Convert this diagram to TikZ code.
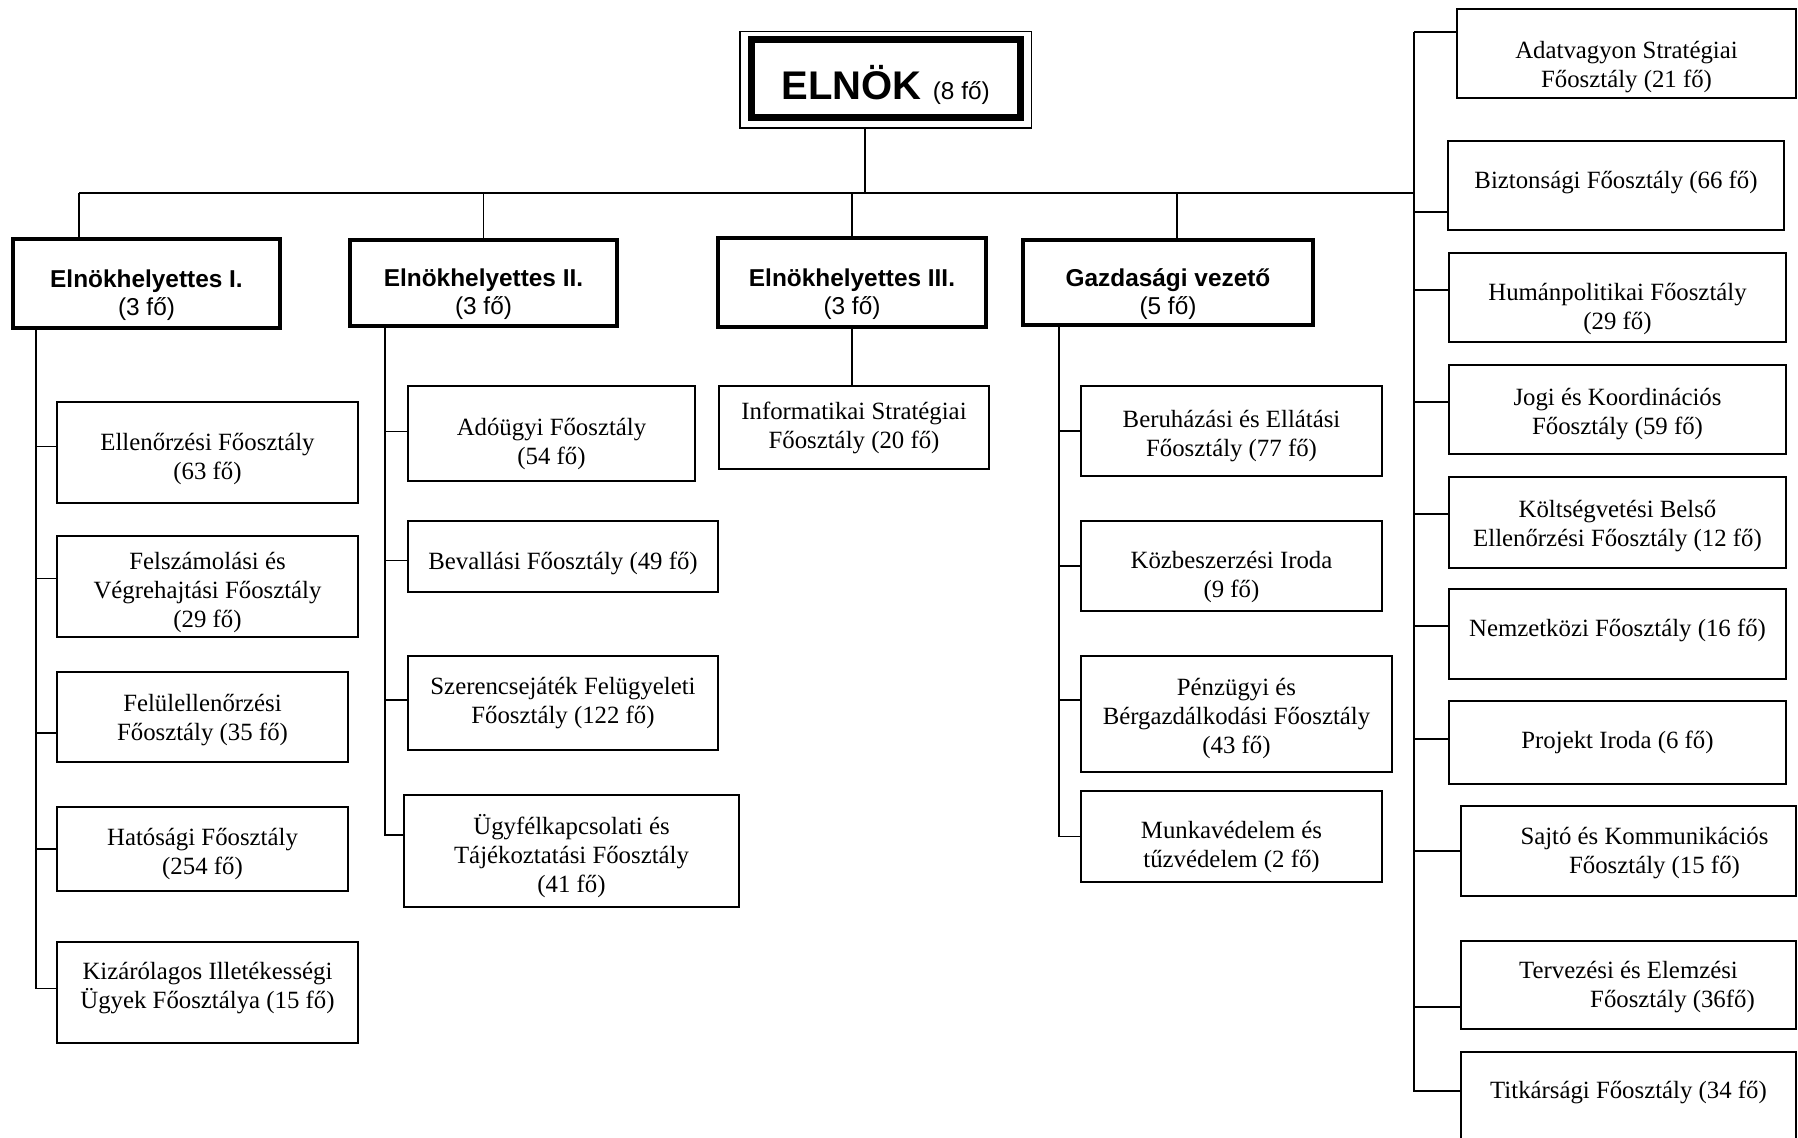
\documentclass[tikz,border=0pt]{standalone}
\usepackage{fontspec}
\setmainfont{Liberation Serif}
\setsansfont{Liberation Sans}
% strut on the first line: pushes the text down inside its box
\newcommand{\tp}[1]{\rule{0pt}{#1}}

\begin{document}
\begin{tikzpicture}[x=0.5pt, y=-0.5pt,
    dbox/.style 2 args={draw, line width=1pt, outer sep=0pt, inner sep=2pt, align=center,
        minimum width=#1*0.5pt, minimum height=#2*0.5pt, font=\fontsize{12.4}{14.5}\selectfont},
    vbox/.style 2 args={draw, line width=1.75pt, outer sep=0pt, inner sep=2pt, align=center,
        minimum width=#1*0.5pt, minimum height=#2*0.5pt, font=\sffamily\fontsize{12.2}{14}\selectfont},
    up/.style={execute at end node={\rule[-#1]{0pt}{0pt}}},
    conn/.style={line width=0.8pt}]
    \useasboundingbox (0,0) rectangle (1798,1138);

    % === TOP: ELNOK ===
    \node[draw, line width=0.75pt, outer sep=0pt, minimum width=145.75pt, minimum height=48.25pt] (elnok) at (885.75,79.75)
        {\tp{22pt}\sffamily{\bfseries\fontsize{20}{24}\selectfont ELNÖK\ }\fontsize{12.2}{14}\selectfont(8 fő)};
    \draw[line width=3.5pt] ([shift={(5.5pt,-4pt)}]elnok.north west) rectangle ([shift={(-5.5pt,5pt)}]elnok.south east);

    % === SECOND ROW: deputies ===
    \node[vbox={267}{89}] (ei) at (146.5,283.5) {\tp{20.5pt}\textbf{Elnökhelyettes I.}\\(3 fő)};
    \node[vbox={267}{86}] (eii) at (483.5,283) {\tp{20.5pt}\textbf{Elnökhelyettes II.}\\(3 fő)};
    \node[vbox={268}{89}] (eiii) at (852,282.5) {\tp{20.5pt}\textbf{Elnökhelyettes III.}\\(3 fő)};
    \node[vbox={290}{85}] (gazd) at (1168,282.5) {\tp{21pt}\textbf{Gazdasági vezető}\\(5 fő)};

    % === UNDER ELNOKHELYETTES I. ===
    \node[dbox={301}{101}] (ell) at (207.5,452.5) {\tp{15.5pt}Ellenőrzési Főosztály\\(63 fő)};
    \node[dbox={301}{101}] (fel) at (207.5,586.5) {\tp{14.5pt}Felszámolási és\\Végrehajtási Főosztály\\(29 fő)};
    \node[dbox={291}{90}] (felul) at (202.5,717) {\tp{12.1pt}Felülellenőrzési\\Főosztály (35 fő)};
    \node[dbox={291}{84}] (hat) at (202.5,849) {\tp{13.3pt}Hatósági Főosztály\\(254 fő)};
    \node[dbox={301}{101}, up=7.3pt] (kiz) at (207.5,992.5) {Kizárólagos Illetékességi\\Ügyek Főosztálya (15 fő)};

    % === UNDER ELNOKHELYETTES II. ===
    \node[dbox={287}{95}] (ado) at (551.5,433.5) {\tp{19.1pt}Adóügyi Főosztály\\(54 fő)};
    \node[dbox={310}{71}] (bev) at (563,556.5) {\tp{15.3pt}Bevallási Főosztály (49 fő)};
    \node[dbox={310}{94}] (szer) at (563,703) {Szerencsejáték Felügyeleti\\Főosztály (122 fő)};
    \node[dbox={335}{112}] (ugy) at (571.5,851) {\tp{15pt}Ügyfélkapcsolati és\\Tájékoztatási Főosztály\\(41 fő)};

    % === UNDER ELNOKHELYETTES III. ===
    \node[dbox={270}{83}] (inf) at (854,427.5) {Informatikai Stratégiai\\Főosztály (20 fő)};

    % === UNDER GAZDASAGI VEZETO ===
    \node[dbox={301}{90}] (ber) at (1231.5,431) {\tp{13.3pt}Beruházási és Ellátási\\Főosztály (77 fő)};
    \node[dbox={301}{90}] (kozb) at (1231.5,566) {\tp{20.1pt}Közbeszerzési Iroda\\(9 fő)};
    \node[dbox={311}{116}] (penz) at (1236.5,714) {\tp{13.3pt}Pénzügyi és\\Bérgazdálkodási Főosztály\\(43 fő)};
    \node[dbox={301}{91}] (munka) at (1231.5,836.5) {\tp{19.1pt}Munkavédelem és\\tűzvédelem (2 fő)};

    % === RIGHT COLUMN (directly under ELNOK) ===
    \node[dbox={339}{89}] (adat) at (1626.5,53.5) {\tp{22.5pt}Adatvagyon Stratégiai\\Főosztály (21 fő)};
    \node[dbox={336}{89}, up=6.1pt] (bizt) at (1616,185.5) {Biztonsági Főosztály (66 fő)};
    \node[dbox={337}{89}] (hum) at (1617.5,297.5) {\tp{20.1pt}Humánpolitikai Főosztály\\(29 fő)};
    \node[dbox={337}{89}] (jogi) at (1617.5,409.5) {\tp{13.3pt}Jogi és Koordinációs\\Főosztály (59 fő)};
    \node[dbox={337}{91}] (kolt) at (1617.5,522.5) {\tp{12.1pt}Költségvetési Belső\\Ellenőrzési Főosztály (12 fő)};
    \node[dbox={337}{90}, up=6.1pt] (nemz) at (1617.5,634) {Nemzetközi Főosztály (16 fő)};
    \node[dbox={337}{83}] (proj) at (1617.5,742.5) {Projekt Iroda (6 fő)};
    \node[dbox={335}{90}] (sajto) at (1628.5,851) {\tp{11pt}\hspace*{16pt}Sajtó és Kommunikációs\\\hspace*{26pt}Főosztály (15 fő)};
    \node[dbox={335}{88}] (terv) at (1628.5,985) {\tp{11pt}Tervezési és Elemzési\\\hspace*{44pt}Főosztály (36fő)};
    \node[dbox={335}{88}, up=6.1pt] (titk) at (1628.5,1096) {Titkársági Főosztály (34 fő)};

    % === CONNECTORS ===
    \coordinate (bus) at (79,193);
    \coordinate (rtop) at (1414,32);
    \coordinate (ek) at ([xshift=-10.5pt]elnok.south);
    \coordinate (gz) at ([xshift=4.5pt]gazd.north);
    \draw[conn] (ek) -- (ek |- bus);
    \draw[conn] (bus) -- (bus -| rtop);
    \draw[conn] (bus) -- (bus |- ei.north);
    \draw[conn] (bus -| eii.north) -- (eii.north);
    \draw[conn] (bus -| eiii.north) -- (eiii.north);
    \draw[conn] (bus -| gz) -- (gz);

    % trunks down to the departments
    \coordinate (t1) at ([xshift=11.5pt]ei.south west);
    \coordinate (t2) at ([xshift=17.5pt]eii.south west);
    \coordinate (t4) at ([xshift=18pt]gazd.south west);
    \foreach \n/\s in {ell/3pt, fel/4pt, felul/-8pt, hat/0pt, kiz/2pt}
        \draw[conn] (t1) |- ([yshift=\s]\n.west);
    \foreach \n/\s in {ado/1pt, bev/-2pt, szer/1.5pt, ugy/8pt}
        \draw[conn] (t2) |- ([yshift=\s]\n.west);
    \draw[conn] (eiii.south) -- (eiii.south |- inf.north);
    \foreach \n/\s in {ber/0pt, kozb/0pt, penz/7pt, munka/0pt}
        \draw[conn] (t4) |- ([yshift=\s]\n.west);
    \foreach \n/\s in {adat/10.75pt, bizt/-13.25pt, hum/3.75pt, jogi/3.75pt, kolt/4.25pt,
                       nemz/4pt, proj/1.75pt, sajto/0pt, terv/-11pt, titk/2.5pt}
        \draw[conn] (rtop) |- ([yshift=\s]\n.west);
\end{tikzpicture}
\end{document}
